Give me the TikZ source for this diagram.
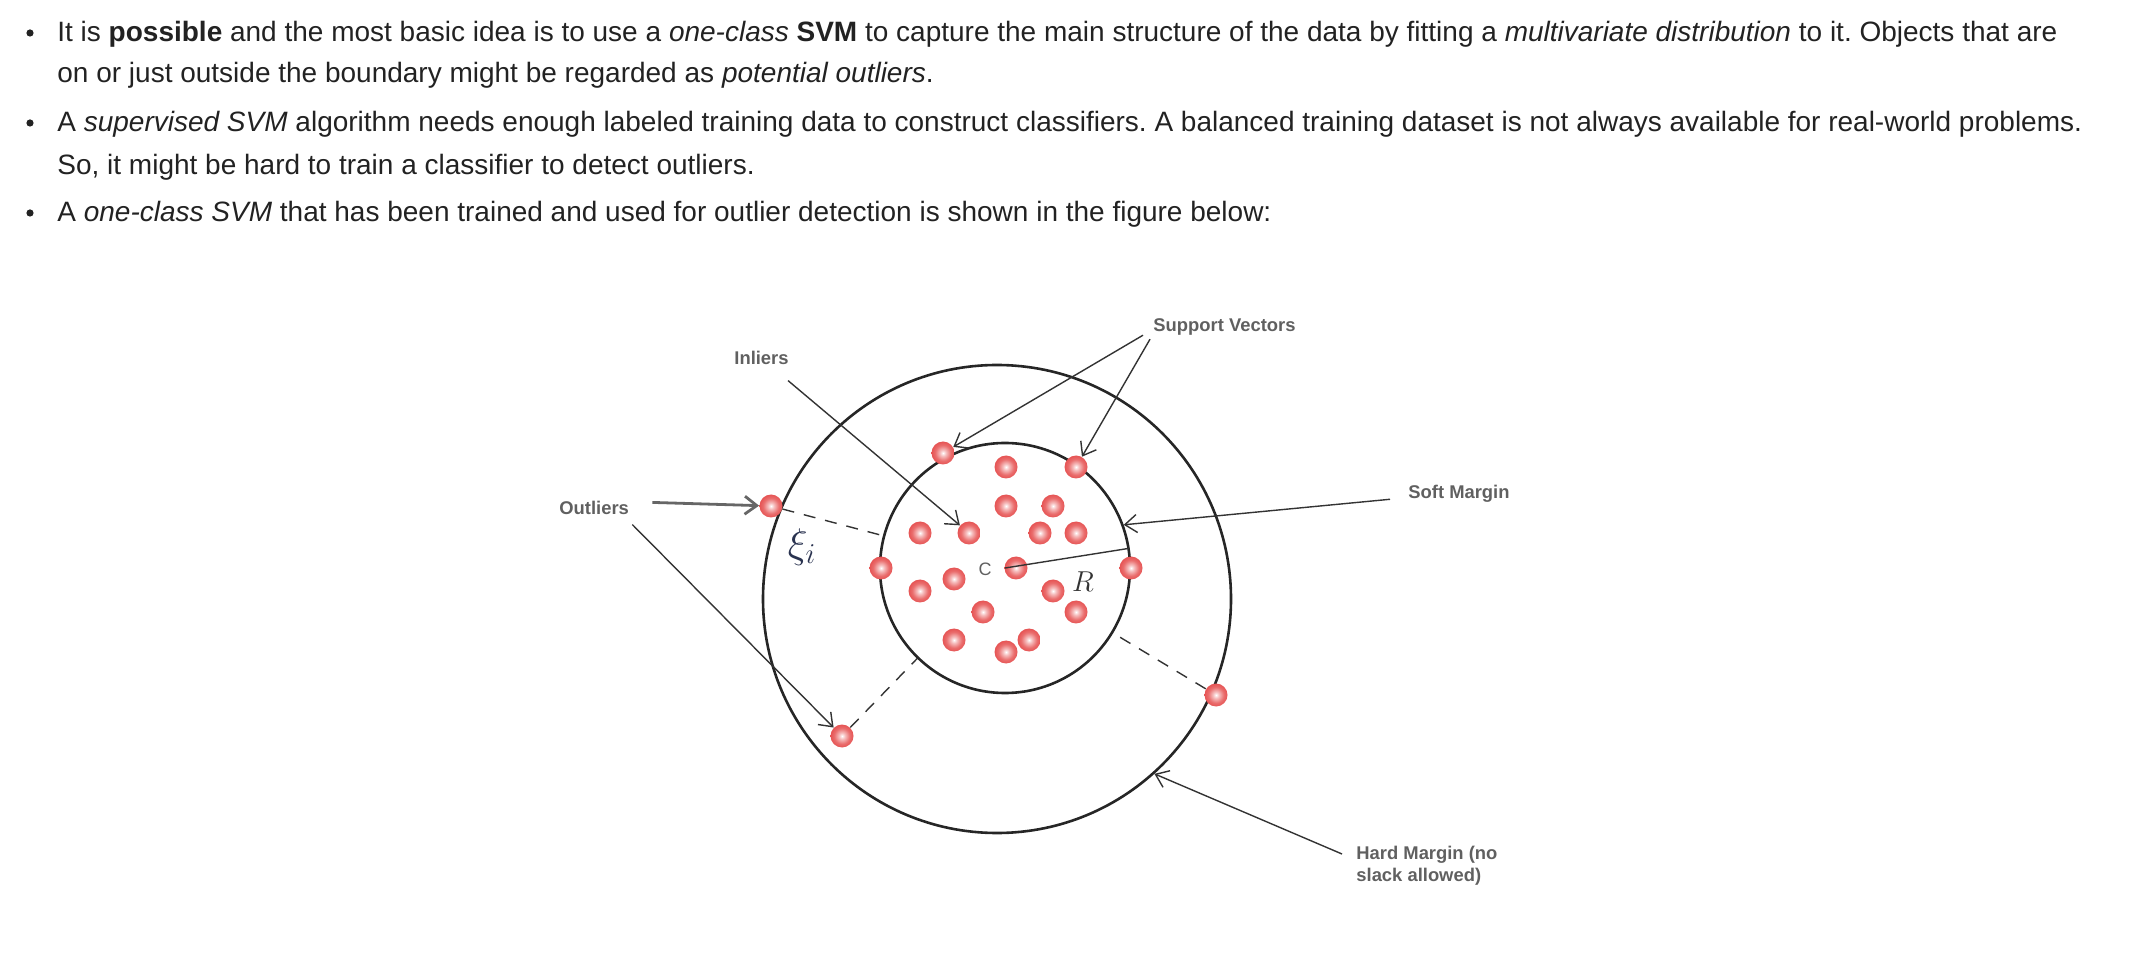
\documentclass[tikz,border=0pt]{standalone}
\usepackage{fontspec}
\setmainfont{Liberation Sans}
\usetikzlibrary{arrows.meta}
\frenchspacing

\definecolor{txt}{HTML}{222222}
\definecolor{lblgray}{HTML}{606060}
\definecolor{ballred}{HTML}{E65454}
\definecolor{ink}{HTML}{333333}
\definecolor{xicol}{HTML}{2A3350}

\pgfdeclareradialshading{redball}{\pgfpoint{0bp}{0bp}}{color(0bp)=(white); color(6bp)=(ballred!35); color(17bp)=(ballred!85); color(25bp)=(ballred); color(50bp)=(ballred)}

\tikzset{
  ball/.style={circle, minimum size=11.5pt, inner sep=0pt, shading=redball},
  lbl/.style={text=lblgray, font=\fontsize{9.2}{11}\selectfont\bfseries, inner sep=1.5pt},
  textline/.style={text=txt, anchor=base west, font=\fontsize{14}{16}\selectfont, inner sep=0pt},
  pointer/.style={draw=ink, line width=0.7pt, -{Straight Barb[length=6pt,width=9pt]}},
  margin/.style={draw=black!85, line width=1.3pt, circle, inner sep=0pt},
  slack/.style={draw=ink, line width=0.7pt, dash pattern=on 6pt off 5pt},
  dot/.style={circle, fill=txt, minimum size=3.6pt, inner sep=0pt}
}

\begin{document}
\begin{tikzpicture}[x=0.5pt,y=-0.5pt]
    \useasboundingbox (0,0) rectangle (2138,962);

    % bullet list
    \node[dot] (d1) at (30,33) {};
    \node[textline] (t1) at (57,42) {It is \textbf{possible} and the most basic idea is to use a \textit{one-class} \textbf{SVM} to capture the main structure of the data by fitting a \textit{multivariate distribution} to it. Objects that are};
    \node[textline] (t2) at (57,83) {on or just outside the boundary might be regarded as \textit{potential outliers}.};
    \node[dot] (d2) at (30,123) {};
    \node[textline] (t3) at (57,132) {A \textit{supervised SVM} algorithm needs enough labeled training data to construct classifiers. A balanced training dataset is not always available for real-world problems.};
    \node[textline] (t4) at (57,175) {So, it might be hard to train a classifier to detect outliers.};
    \node[dot] (d3) at (30,213) {};
    \node[textline] (t5) at (57,222) {A \textit{one-class SVM} that has been trained and used for outlier detection is shown in the figure below:};

    % margins
    \node[margin, minimum size=234pt] (hard) at (997,599) {};
    \node[margin, minimum size=125pt] (soft) at (1005,568) {};

    % inliers
    \node[ball] (b1) at (943,453) {};
    \node[ball] (b2) at (1006,467) {};
    \node[ball] (b3) at (1076,467) {};
    \node[ball] (b4) at (1006,506) {};
    \node[ball] (b5) at (1053,506) {};
    \node[ball] (b6) at (920,533) {};
    \node[ball] (b7) at (969,533) {};
    \node[ball] (b8) at (1040,533) {};
    \node[ball] (b9) at (1076,533) {};
    \node[ball] (b10) at (881,568) {};
    \node[ball] (b11) at (1016,568) {};
    \node[ball] (b12) at (1131,568) {};
    \node[ball] (b13) at (954,579) {};
    \node[ball] (b14) at (920,591) {};
    \node[ball] (b15) at (1053,591) {};
    \node[ball] (b16) at (983,612) {};
    \node[ball] (b17) at (1076,612) {};
    \node[ball] (b18) at (954,640) {};
    \node[ball] (b19) at (1029,640) {};
    \node[ball] (b20) at (1006,652) {};

    % outliers
    \node[ball] (o1) at (771,506) {};
    \node[ball] (o2) at (842,736) {};
    \node[ball] (o3) at (1216,695) {};

    \draw[slack] (o1) -- (soft);
    \draw[slack] (o2) -- (soft);
    \draw[slack] (o3) -- (soft);

    % radius and centre
    \draw[ink, line width=0.7pt] (soft.center) -- (soft.9);
    \node[text=lblgray, font=\fontsize{9}{10}\selectfont, inner sep=1pt] (c) at (985,569) {C};
    \node[text=ink, font=\fontsize{14}{15}\selectfont, inner sep=1pt] (r) at (1083,582) {$R$};
    \node[text=xicol, font=\fontsize{20}{21}\selectfont, inner sep=1pt] (xi) at (802,547) {$\xi_i$};

    % labels
    \node[lbl, anchor=base west] (inl) at (731,365) {Inliers};
    \node[lbl, anchor=base west] (sv) at (1150,332) {Support Vectors};
    \node[lbl, anchor=base west] (outl) at (556,515) {Outliers};
    \node[lbl, anchor=base west] (softlbl) at (1405,499) {Soft Margin};
    \node[lbl, anchor=west, align=left] (hardlbl) at (1353,866) {Hard Margin (no\\slack allowed)};

    \draw[pointer] ([shift={(-4,12)}]inl.south east) -- (b7);
    \draw[pointer] ([shift={(-7,-4)}]sv.south west) -- (b1);
    \draw[pointer] (sv.south west) -- (b3);
    \draw[pointer, draw=black!60, line width=1.4pt] ([shift={(20,-6)}]outl.east) -- (o1);
    \draw[pointer] ([yshift=-3pt]outl.south east) -- (o2);
    \draw[pointer] ([shift={(-15,5)}]softlbl.west) -- (soft.20);
    \draw[pointer] ([shift={(-11,-12)}]hardlbl.west) -- (hard.-48);
\end{tikzpicture}
\end{document}
